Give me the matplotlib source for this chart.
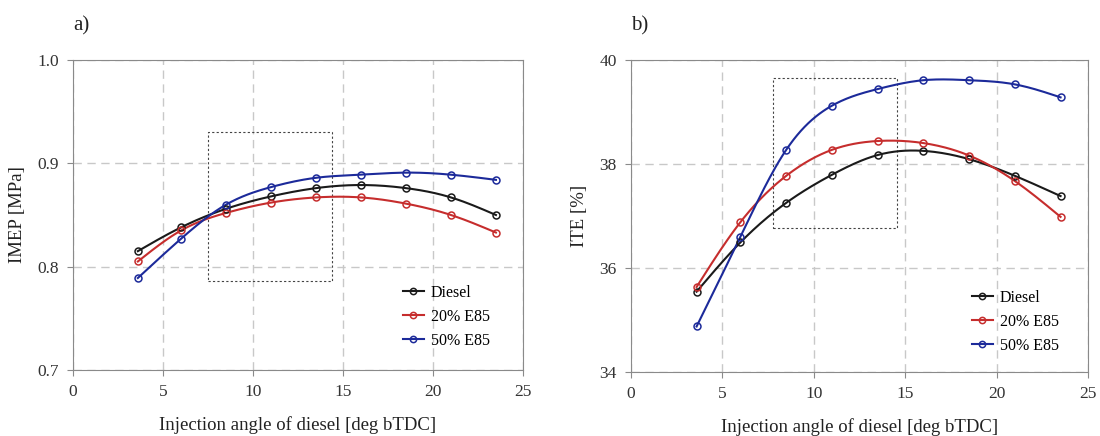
import numpy as np
import matplotlib
matplotlib.use("Agg")
import matplotlib.pyplot as plt
from matplotlib.patches import Rectangle

plt.rcParams['font.family'] = ['Liberation Serif', 'DejaVu Serif']

# injection angle [deg bTDC]
angle = [3.6, 6, 8.5, 11, 13.5, 16, 18.5, 21, 23.5]

imep_diesel = [0.815, 0.838, 0.856, 0.868, 0.876, 0.879, 0.876, 0.867, 0.850]
imep_e20 = [0.805, 0.835, 0.852, 0.862, 0.867, 0.867, 0.861, 0.850, 0.833]
imep_e50 = [0.789, 0.827, 0.860, 0.877, 0.886, 0.889, 0.891, 0.889, 0.884]

ite_diesel = [35.54, 36.49, 37.25, 37.79, 38.17, 38.25, 38.09, 37.77, 37.38]
ite_e20 = [35.63, 36.88, 37.77, 38.27, 38.44, 38.40, 38.16, 37.67, 36.98]
ite_e50 = [34.87, 36.60, 38.27, 39.12, 39.44, 39.61, 39.61, 39.53, 39.28]

names = ['Diesel', '20% E85', '50% E85']
colors = ['#1a1a1a', '#c62d2d', '#1c2a9a']


def spline(x, y, n=200):
    # natural cubic spline, just for drawing the smooth line
    x = np.asarray(x, float)
    y = np.asarray(y, float)
    h = np.diff(x)
    m = len(x)
    A = np.zeros((m, m))
    r = np.zeros(m)
    A[0, 0] = A[-1, -1] = 1
    for i in range(1, m - 1):
        A[i, i - 1] = h[i - 1]
        A[i, i] = 2 * (h[i - 1] + h[i])
        A[i, i + 1] = h[i]
        r[i] = 6 * ((y[i + 1] - y[i]) / h[i] - (y[i] - y[i - 1]) / h[i - 1])
    M = np.linalg.solve(A, r)
    xs = np.linspace(x[0], x[-1], n)
    k = np.clip(np.searchsorted(x, xs) - 1, 0, m - 2)
    t1 = x[k + 1] - xs
    t0 = xs - x[k]
    hk = h[k]
    ys = (M[k] * t1**3 + M[k + 1] * t0**3) / (6 * hk) \
        + (y[k] / hk - M[k] * hk / 6) * t1 + (y[k + 1] / hk - M[k + 1] * hk / 6) * t0
    return xs, ys


fig = plt.figure(figsize=(11, 4.36), dpi=100)
ax1 = fig.add_axes([0.0664, 0.1514, 0.409, 0.711])
ax2 = fig.add_axes([0.5734, 0.1475, 0.4157, 0.715])

panels = [
    (ax1, [imep_diesel, imep_e20, imep_e50], (0.7, 1.0), [0.7, 0.8, 0.9, 1.0],
     'IMEP [MPa]', 'a)', (7.5, 0.786, 6.9, 0.144), (0.733, 0.275)),
    (ax2, [ite_diesel, ite_e20, ite_e50], (34, 40), [34, 36, 38, 40],
     'ITE [%]', 'b)', (7.8, 36.76, 6.74, 2.9), (0.746, 0.262)),
]

for ax, series, ylim, yticks, ylabel, tag, box, legpos in panels:
    for vals, name, c in zip(series, names, colors):
        xs, ys = spline(angle, vals)
        ax.plot(xs, ys, color=c, lw=1.5, zorder=3)
        ax.plot(angle, vals, 'o', ms=5, mfc='none', mec=c, mew=1.1, zorder=4)
        ax.plot([], [], '-o', color=c, lw=1.5, ms=4.5, mfc='none', mew=1.1, label=name)
    ax.add_patch(Rectangle(box[:2], box[2], box[3], fill=False, ls=(0, (2, 2)),
                           lw=0.8, ec='#444444', zorder=2))
    ax.set_xlim(0, 25)
    ax.set_ylim(*ylim)
    ax.set_xticks([0, 5, 10, 15, 20, 25])
    ax.set_yticks(yticks)
    ax.grid(True, ls=(0, (6, 4)), color='#c8c8c8', lw=1.0)
    ax.set_axisbelow(True)
    for s in ax.spines.values():
        s.set_color('#8a8a8a')
    ax.tick_params(colors='#8a8a8a', labelcolor='#333333', labelsize=12.5, length=4, pad=6)
    ax.set_xlabel('Injection angle of diesel [deg bTDC]', fontsize=13.5, color='#222222', labelpad=12)
    ax.set_ylabel(ylabel, fontsize=13.5, color='#222222', labelpad=8)
    ax.text(0.0, 1.08, tag, transform=ax.transAxes, fontsize=15, color='#222222', va='bottom')
    ax.legend(loc='upper left', bbox_to_anchor=legpos, frameon=False, borderpad=0,
              borderaxespad=0, fontsize=11.5, handlelength=1.3, handletextpad=0.45,
              labelspacing=0.5)

fig.savefig('out.png', dpi=100)
